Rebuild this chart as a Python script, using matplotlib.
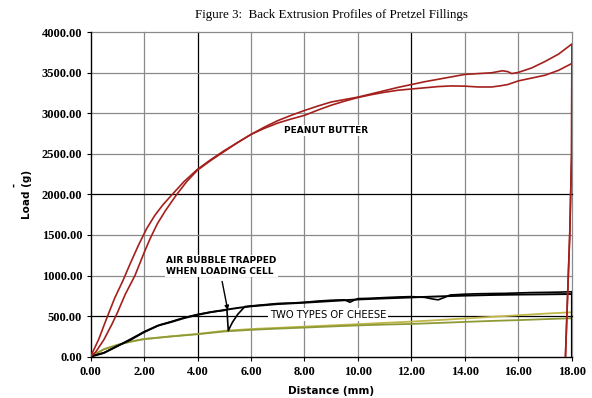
import matplotlib
matplotlib.use("Agg")
import matplotlib.pyplot as plt
import numpy as np

# peanut butter, run A (steeper start, ends higher)
pb_a_x = [0, 0.3, 0.6, 0.9, 1.2, 1.5, 1.8, 2.1, 2.4, 2.7, 3.0, 3.5, 4.0,
          4.5, 5.0, 5.5, 6.0, 6.5, 7.0, 7.5, 8.0, 8.5, 9.0, 9.5, 10.0, 10.5, 11.0,
          11.5, 12.0, 12.5, 13.0, 13.5, 14.0, 14.5, 15.0, 15.4, 15.6, 15.75, 16.0,
          16.5, 17.0, 17.5, 18.0, 17.99, 17.92, 17.76]
pb_a_y = [0, 210, 470, 720, 930, 1160, 1380, 1580, 1740, 1870, 1980, 2160, 2310,
          2430, 2540, 2640, 2740, 2830, 2910, 2975, 3035, 3090, 3140, 3170, 3200, 3240, 3280,
          3320, 3355, 3390, 3420, 3450, 3480, 3490, 3500, 3525, 3515, 3490, 3505,
          3560, 3640, 3730, 3855, 2500, 1500, 0]

# peanut butter, run B
pb_b_x = [0, 0.2, 0.5, 0.8, 1.0, 1.3, 1.66, 2.0, 2.22, 2.5, 2.8, 3.2, 3.6, 4.0,
          4.5, 5.0, 5.5, 6.0, 6.5, 7.0, 7.5, 8.0, 8.5, 9.0, 9.5, 10.0, 10.5, 11.0,
          11.5, 12.0, 12.5, 13.0, 13.5, 14.0, 14.5, 15.0, 15.3, 15.6, 16.0, 16.5,
          17.0, 17.5, 18.0, 17.99, 17.92, 17.76]
pb_b_y = [0, 60, 210, 400, 540, 770, 1000, 1280, 1450, 1640, 1800, 1990, 2160, 2300,
          2420, 2530, 2640, 2740, 2815, 2880, 2930, 2975, 3040, 3100, 3150, 3195, 3230, 3260,
          3285, 3300, 3315, 3330, 3338, 3335, 3325, 3325, 3338, 3355, 3400, 3435,
          3470, 3530, 3615, 2500, 1500, 0]

# cheese 1 (with the air bubble)
ch1_x = [0, 0.5, 1.0, 1.5, 2.0, 2.59, 3.0, 3.5, 4.0, 4.5, 5.0, 5.1, 5.15, 5.3, 5.5,
         5.77, 6.0, 6.5, 7.0, 7.5, 8.0, 8.5, 9.0, 9.5, 9.7, 9.85, 10.0, 10.5, 11.0,
         11.5, 12.0, 12.5, 12.8, 13.0, 13.2, 13.45, 14.0, 14.5, 15.0, 15.5, 16.0,
         16.5, 17.0, 17.5, 18.0, 18.0]
ch1_y = [0, 48, 132, 206, 300, 391, 430, 480, 520, 550, 570, 578, 320, 420, 520,
         617, 625, 640, 655, 660, 670, 685, 695, 700, 670, 695, 715, 720, 728,
         735, 740, 730, 710, 700, 725, 760, 770, 775, 778, 780, 785,
         790, 792, 795, 800, 0]

# cheese 2
ch2_x = [0, 0.5, 1.0, 1.5, 2.0, 2.5, 3.0, 3.5, 4.0, 4.5, 5.0, 5.5, 6.0, 7.0, 8.0,
         9.0, 10.0, 11.0, 12.0, 13.0, 14.0, 15.0, 16.0, 17.0, 18.0, 18.0]
ch2_y = [0, 45, 128, 215, 305, 380, 425, 475, 515, 548, 575, 600, 620, 648, 665,
         685, 705, 718, 730, 742, 752, 760, 765, 768, 772, 0]

# the two yellow-green traces
cheese_x = [0, 0.5, 1.0, 1.5, 2.0, 3.0, 4.0, 5.0, 6.0, 7.0, 8.0, 9.0, 10.0, 11.0,
            12.0, 13.0, 14.0, 15.0, 16.0, 17.0, 18.0]
olive_y = [0, 91, 144, 185, 215, 248, 276, 310, 330, 345, 358, 372, 385, 395,
           403, 415, 428, 440, 450, 462, 473]
yellow_y = [0, 91, 144, 185, 218, 250, 280, 318, 340, 355, 370, 385, 400, 416,
            432, 450, 470, 490, 510, 530, 547]

x_ticks = np.arange(0, 18.1, 2)
y_ticks = np.arange(0, 4001, 500)
dark_x = [4, 12]
dark_y = [500, 2000]

fig = plt.figure(figsize=(5.92, 3.98), dpi=100)
ax = fig.add_axes([0.153, 0.104, 0.813, 0.815])

for xv in x_ticks[1:]:
    ax.axvline(xv, color='black' if xv in dark_x else '#8a8a8a', lw=0.9, zorder=1, clip_on=False)
for yv in y_ticks[1:]:
    ax.axhline(yv, color='black' if yv in dark_y else '#8a8a8a', lw=0.9, zorder=1, clip_on=False)

red = '#a3201d'
ax.plot(cheese_x, yellow_y, color='#c0b64a', lw=1.3, zorder=2)
ax.plot(cheese_x, olive_y, color='#8e9a36', lw=1.3, zorder=2)
ax.plot(ch2_x, ch2_y, color='black', lw=1.4, zorder=3)
ax.plot(ch1_x, ch1_y, color='black', lw=1.2, zorder=3)
ax.plot(pb_a_x, pb_a_y, color=red, lw=1.2, zorder=4)
ax.plot(pb_b_x, pb_b_y, color=red, lw=1.2, zorder=4)

ax.set_xlim(0, 18)
ax.set_ylim(0, 4000)
ax.set_xticks(x_ticks)
ax.set_yticks(y_ticks)
ax.set_xticklabels([f'{v:.2f}' for v in x_ticks])
ax.set_yticklabels([f'{v:.2f}' for v in y_ticks])
for lab in ax.get_xticklabels() + ax.get_yticklabels():
    lab.set_fontfamily('Liberation Serif')
    lab.set_fontweight('bold')
    lab.set_fontsize(9)
ax.tick_params(axis='both', direction='out', length=3, width=0.8)
ax.tick_params(axis='y', pad=3)
ax.tick_params(axis='x', pad=4)
ax.spines['top'].set_visible(False)
ax.spines['right'].set_visible(False)
ax.spines['left'].set_linewidth(1.0)
ax.spines['bottom'].set_linewidth(1.0)

fig.text(0.559, 0.018, 'Distance (mm)', fontsize=7.5, fontweight='bold',
         family='DejaVu Sans', ha='center', va='center')
ax.set_ylabel('Load (g)', fontsize=7.5, fontweight='bold', family='DejaVu Sans', labelpad=7)
fig.text(0.024, 0.535, '-', rotation=90, fontsize=7, fontweight='bold', ha='center', va='center')

fig.text(0.56, 0.962, 'Figure 3:  Back Extrusion Profiles of Pretzel Fillings',
         family='Liberation Serif', fontsize=9.4, ha='center', va='center')

box = dict(facecolor='white', edgecolor='none', pad=1)
ax.text(8.81, 2790, 'PEANUT BUTTER', fontsize=6.5, fontweight='bold', ha='center',
        va='center', bbox=box, zorder=5)
ax.text(2.82, 1120, 'AIR BUBBLE TRAPPED\nWHEN LOADING CELL', fontsize=6.5, fontweight='bold',
        ha='left', va='center', linespacing=1.25, bbox=box, zorder=5)
ax.annotate('', xy=(5.15, 540), xytext=(4.9, 960),
            arrowprops=dict(arrowstyle='-|>', color='black', lw=1.0, mutation_scale=6), zorder=5)
ax.text(8.88, 515, 'TWO TYPES OF CHEESE', fontsize=7.2, ha='center',
        va='center', bbox=box, zorder=5)

fig.savefig('out.png', dpi=100)
